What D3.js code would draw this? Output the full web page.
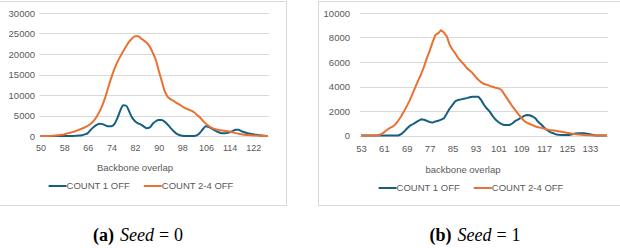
<!DOCTYPE html>
<html>
<head>
<meta charset="utf-8">
<script src="https://cdn.jsdelivr.net/npm/d3@7"></script>
<style>
  body { margin: 0; background: #fff; }
  svg { display: block; }
</style>
</head>
<body>
<script>
// ---- data ----
// panel (a) seed 0, backbone overlap 50..127
var catsA = d3.range(50, 128);
var count1A = [0,0,0,0,0,0,0,0,0,0, 0,0,50,100,200,400,700,1500,2200,2700,
  3000,2900,2600,2350,2400,2900,4300,6200,7500,7400, 6000,4500,3600,3100,2800,2300,1900,2100,3000,3600,
  3900,3900,3500,2800,2000,1200,600,250,50,0, 0,0,0,200,800,1700,2400,2200,1800,1400,
  1000,750,650,700,900,1200,1500,1500,1200,900, 700,550,400,300,200,100,50,0];
var count24A = [0,0,0,0,50,100,200,300,400,600, 800,1000,1250,1500,1800,2100,2500,3000,3700,4700,
  6000,7600,9600,12000,14300,16300,18000,19400,20700,21900, 23000,23800,24300,24300,23800,23300,22700,21800,20300,18600,
  16000,13500,11000,9600,9000,8600,8100,7700,7200,6800, 6500,6200,5800,5100,4500,3700,3000,2400,2000,1700,
  1500,1400,1300,1200,1100,900,700,550,450,300, 250,200,150,100,50,0,0,0];
var xTicksA = [50, 58, 66, 74, 82, 90, 98, 106, 114, 122];
var yTicksA = [0, 5000, 10000, 15000, 20000, 25000, 30000];

// panel (b) seed 1, backbone overlap 53..139
var catsB = d3.range(53, 140);
var count1B = [0,0,0,0,0,0,0,0,0,0, 0,0,0,0,100,300,550,780,900,1050,
  1200,1320,1280,1200,1100,1050,1150,1200,1300,1400, 1800,2200,2500,2800,2900,2950,3000,3050,3120,3170,
  3170,3170,2900,2500,2200,1950,1600,1300,1100,950, 860,860,860,1000,1200,1320,1450,1600,1670,1650,
  1550,1400,1100,900,650,450,300,200,110,60, 40,40,40,50,100,170,180,180,180,150,
  100,50,0,0,0,0,0];
var count24B = [0,0,0,0,0,0,0,100,250,450, 600,720,900,1200,1550,1950,2400,2850,3400,3950,
  4500,5000,5600,6300,6900,7600,8200,8350,8600,8400, 8100,7400,7000,6700,6300,6050,5800,5500,5300,5100,
  4800,4550,4350,4200,4150,4050,3980,3900,3850,3750, 3400,3050,2700,2350,2050,1750,1450,1200,1050,940,
  850,730,680,620,560,500,450,420,380,340, 300,260,220,180,140,100,80,60,40,30,
  20,10,0,0,0,0,0];
var xTicksB = [53, 61, 69, 77, 85, 93, 101, 109, 117, 125, 133];
var yTicksB = [0, 2000, 4000, 6000, 8000, 10000];

var seriesNames = ["COUNT 1 OFF", "COUNT 2-4 OFF"];
var seriesColors = ["#156082", "#E97132"];

var W = 620, H = 248;
var txtCol = "#595959", gridCol = "#d9d9d9";
var sans = "'Liberation Sans', Arial, sans-serif";
var serif = "'Liberation Serif', 'DejaVu Serif', serif";

var svg = d3.select("body").append("svg")
  .attr("width", W).attr("height", H);

// draws one excel-style chart panel
function drawPanel(p) {
  var g = svg.append("g");

  // chart area border
  g.append("rect")
    .attr("x", p.frame[0] + 0.5).attr("y", p.frame[1] + 0.5)
    .attr("width", p.frame[2] - p.frame[0]).attr("height", p.frame[3] - p.frame[1])
    .attr("fill", "none").attr("stroke", gridCol).attr("stroke-width", 1);

  var x = d3.scaleLinear().domain(d3.extent(p.cats)).range([p.x0, p.x1]);
  var y = d3.scaleLinear().domain([0, d3.max(p.yTicks)]).range([p.y0, p.y1]);

  // gridlines
  g.append("g").selectAll("line").data(p.yTicks).join("line")
    .attr("x1", p.x0 - 1).attr("x2", p.x1 + 1)
    .attr("y1", function(d){ return Math.round(y(d)) + 0.5; })
    .attr("y2", function(d){ return Math.round(y(d)) + 0.5; })
    .attr("stroke", gridCol).attr("stroke-width", 1);

  // y axis labels
  var ya = g.append("g").attr("transform", "translate(" + p.yLabX + ",0)")
    .call(d3.axisLeft(y).tickValues(p.yTicks).tickSize(0).tickPadding(0).tickFormat(d3.format("d")));
  ya.select(".domain").remove();
  ya.selectAll("text").attr("fill", txtCol).style("font-family", sans).style("font-size", "9.5px");

  // x axis labels
  var xa = g.append("g").attr("transform", "translate(0," + p.xLabY + ")")
    .call(d3.axisBottom(x).tickValues(p.xTicks).tickSize(0).tickPadding(0));
  xa.select(".domain").remove();
  xa.selectAll("text").attr("fill", txtCol).style("font-family", sans).style("font-size", p.xFont);

  // axis title
  g.append("text")
    .attr("x", p.titleX).attr("y", p.titleY)
    .attr("text-anchor", "middle")
    .attr("fill", txtCol).style("font-family", sans).style("font-size", "9.5px")
    .text(p.title);

  // lines
  var series = [p.blue, p.orange];
  series.forEach(function(vals, i) {
    var line = d3.line()
      .x(function(d, j){ return x(p.cats[j]); })
      .y(function(d){ return y(d); })
      .curve(p.curve);
    g.append("path")
      .datum(vals)
      .attr("d", line)
      .attr("fill", "none")
      .attr("stroke", seriesColors[i])
      .attr("stroke-width", 2)
      .attr("stroke-linejoin", "round");
  });

  // legend, centered on p.legX
  var leg = g.append("g");
  var cx = 0;
  var lineLen = 18, gap = 14;
  seriesNames.forEach(function(name, i) {
    leg.append("line")
      .attr("x1", cx).attr("x2", cx + lineLen)
      .attr("y1", p.legY).attr("y2", p.legY)
      .attr("stroke", seriesColors[i]).attr("stroke-width", 2);
    var t = leg.append("text")
      .attr("x", cx + lineLen).attr("y", p.legY + 3.3)
      .attr("fill", txtCol).style("font-family", sans).style("font-size", "9.5px")
      .text(name);
    cx += lineLen + t.node().getComputedTextLength() + gap;
  });
  cx -= gap;
  leg.attr("transform", "translate(" + (p.legX - cx / 2) + ",0)");

  // caption below, latex style: bold tag, italic math var
  var cap = svg.append("text")
    .attr("x", p.capX).attr("y", 241)
    .attr("text-anchor", "middle")
    .attr("fill", "#000").style("font-family", serif).style("font-size", "18px");
  cap.append("tspan").style("font-weight", "bold").text(p.capTag);
  cap.append("tspan").attr("dx", 6).style("font-style", "italic").text("Seed");
  cap.append("tspan").attr("dx", 5).text("=");
  cap.append("tspan").attr("dx", 5).text(p.capNum);
}

drawPanel({
  cats: catsA, blue: count1A, orange: count24A,
  xTicks: xTicksA, yTicks: yTicksA,
  frame: [-5, 1, 286, 205],
  x0: 40.5, x1: 268, y0: 136, y1: 13,
  yLabX: 35, xLabY: 145, xFont: "9px",
  title: "Backbone overlap", titleX: 135, titleY: 171,
  legX: 141, legY: 186,
  curve: d3.curveMonotoneX,
  capX: 138, capTag: "(a)", capNum: "0"
});

drawPanel({
  cats: catsB, blue: count1B, orange: count24B,
  xTicks: xTicksB, yTicks: yTicksB,
  frame: [318, 1, 625, 205],
  x0: 361, x1: 607, y0: 135.5, y1: 13,
  yLabX: 350, xLabY: 145, xFont: "9.5px",
  title: "backbone overlap", titleX: 463, titleY: 173,
  legX: 471, legY: 188,
  curve: d3.curveLinear,
  capX: 475, capTag: "(b)", capNum: "1"
});
</script>
</body>
</html>
